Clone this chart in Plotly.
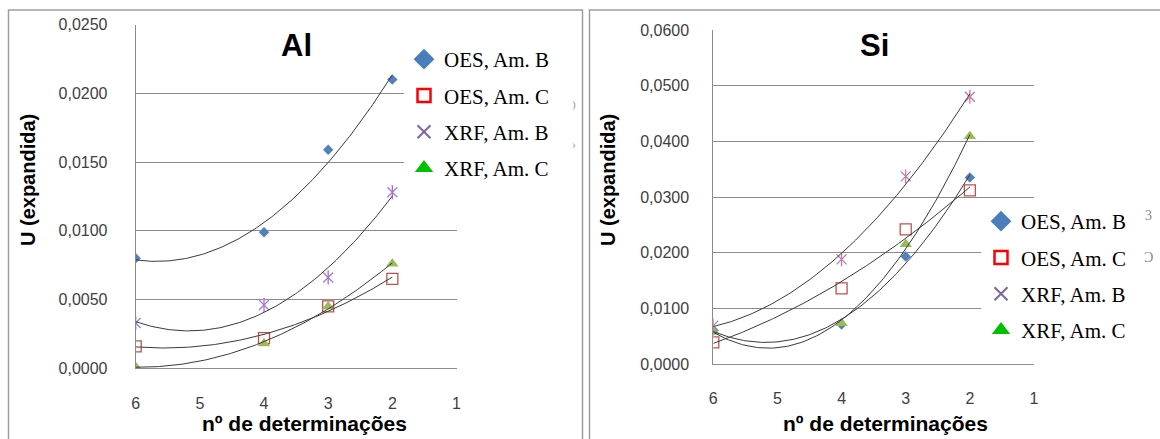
import numpy as np
import plotly.graph_objects as go

W, H = 1160, 439

# ---------------- data ----------------
n_det = [6, 4, 3, 2]
x_ticks = [6, 5, 4, 3, 2, 1]
series_names = ["OES, Am. B", "OES, Am. C", "XRF, Am. B", "XRF, Am. C"]

al_oes_b = [0.0080, 0.0099, 0.0159, 0.0210]
al_oes_c = [0.0016, 0.0022, 0.0045, 0.0065]
al_xrf_b = [0.0033, 0.0046, 0.0066, 0.0128]
al_xrf_c = [0.0001, 0.0018, 0.0045, 0.0076]

si_oes_b = [0.0060, 0.0071, 0.0193, 0.0335]
si_oes_c = [0.0039, 0.0136, 0.0242, 0.0312]
si_xrf_b = [0.0069, 0.0188, 0.0337, 0.0480]
si_xrf_c = [0.0058, 0.0073, 0.0215, 0.0409]

al_y_ticks = [0.0, 0.005, 0.010, 0.015, 0.020, 0.025]
si_y_ticks = [0.0, 0.01, 0.02, 0.03, 0.04, 0.05, 0.06]

# ---------------- helpers ----------------
def px(x):
    return x / W

def py(y):
    return 1 - y / H

data_styles = [
    dict(symbol="diamond", size=8, color="#4F81BD", line=dict(width=0)),
    dict(symbol="square-open", size=11, color="#C0504D", line=dict(width=1.3, color="#C0504D")),
    dict(symbol="x-thin-open", size=10, color="#9B87C0", line=dict(width=1.3, color="#9B87C0")),
    dict(symbol="triangle-up", size=11, color="#9BBB59", line=dict(width=0)),
]
legend_styles = [
    dict(symbol="diamond", size=16, color="#4A7EBB", line=dict(width=0)),
    dict(symbol="square-open", size=13, color="#FF0000", line=dict(width=2.5, color="#FF0000")),
    dict(symbol="x-thin-open", size=13, color="#8064A2", line=dict(width=2, color="#8064A2")),
    dict(symbol="triangle-up", size=16, color="#00C000", line=dict(width=0)),
]

fig = go.Figure()

def add_panel(tag, values, xa, ya, legend_name):
    xs = np.linspace(6, 2, 120)
    # markers
    for i, vals in enumerate(values):
        fig.add_trace(go.Scatter(x=n_det, y=vals, mode="markers", marker=data_styles[i],
                                 xaxis=xa, yaxis=ya, showlegend=False, hoverinfo="x+y"))
        if i == 2:  # vertical stroke of the star marker
            fig.add_trace(go.Scatter(x=n_det, y=vals, mode="markers",
                                     marker=dict(symbol="line-ns-open", size=10,
                                                 line=dict(width=1.3, color="#9B87C0")),
                                     xaxis=xa, yaxis=ya, showlegend=False, hoverinfo="skip"))
    # polynomial (order 2) trend lines
    for vals in values:
        coef = np.polyfit(n_det, vals, 2)
        fig.add_trace(go.Scatter(x=xs, y=np.polyval(coef, xs), mode="lines",
                                 line=dict(color="#3a3a3a", width=1),
                                 xaxis=xa, yaxis=ya, showlegend=False, hoverinfo="skip"))
    # legend entries
    for i, name in enumerate(series_names):
        fig.add_trace(go.Scatter(x=[None], y=[None], mode="markers", name=name,
                                 marker=legend_styles[i], xaxis=xa, yaxis=ya,
                                 legend=legend_name, legendgroup=tag + str(i)))

add_panel("al", [al_oes_b, al_oes_c, al_xrf_b, al_xrf_c], "x", "y", "legend")
add_panel("si", [si_oes_b, si_oes_c, si_xrf_b, si_xrf_c], "x2", "y2", "legend2")

tick_font = dict(family="Liberation Sans, Arial", size=16, color="#404040")
grid_col = "#8C8C8C"

def xaxis_cfg(domain, anchor):
    return dict(domain=domain, range=[6, 1], tickmode="array", tickvals=x_ticks,
                ticktext=[str(t) for t in x_ticks], showgrid=False, zeroline=False,
                showline=True, linecolor=grid_col, linewidth=1, ticks="",
                tickfont=tick_font, ticklabelstandoff=20, automargin=False,
                anchor=anchor, fixedrange=True)

def yaxis_cfg(domain, rng, ticks, anchor, standoff):
    return dict(domain=domain, range=rng, tickmode="array", tickvals=ticks,
                tickformat=".4f", showgrid=True, gridcolor=grid_col, gridwidth=1,
                zeroline=False, showline=True, linecolor=grid_col, linewidth=1, ticks="",
                tickfont=tick_font, ticklabelstandoff=standoff, automargin=False,
                anchor=anchor, fixedrange=True)

legend_font = dict(family="Liberation Serif, Times New Roman", size=21, color="black")

title_font = dict(family="Liberation Sans, Arial", size=31, color="black")
axis_title_font = dict(family="Liberation Sans, Arial", size=20, color="black")
xaxis_title_font = dict(family="Liberation Sans, Arial", size=21, color="black")

annotations = [
    dict(text="<b>Al</b>", x=px(296), y=py(45), font=title_font),
    dict(text="<b>Si</b>", x=px(874), y=py(45), font=title_font),
    dict(text="<b>U (expandida)</b>", x=px(28), y=py(180), textangle=-90, font=axis_title_font),
    dict(text="<b>U (expandida)</b>", x=px(608), y=py(180), textangle=-90, font=axis_title_font),
    dict(text="<b>nº de determinações</b>", x=px(304), y=py(423), font=xaxis_title_font),
    dict(text="<b>nº de determinações</b>", x=px(885), y=py(423), font=xaxis_title_font),
    # clipped fragments of an underlying legend visible at the edges
    dict(text=")", x=px(574), y=py(104), font=dict(family="Liberation Serif", size=11, color="#9A9A9A")),
    dict(text="›", x=px(574), y=py(144), font=dict(family="Liberation Serif", size=12, color="#9A9A9A")),
    dict(text="3", x=px(1148), y=py(216), font=dict(family="Liberation Serif", size=14, color="#8A8A8A")),
    dict(text="Ɔ", x=px(1148), y=py(257), font=dict(family="Liberation Serif", size=14, color="#8A8A8A")),
]
for a in annotations:
    a.update(xref="paper", yref="paper", showarrow=False, xanchor="center", yanchor="middle")

shapes = [
    dict(type="rect", xref="paper", yref="paper", x0=px(8.5), x1=px(582.5), y0=-0.2, y1=py(10),
         line=dict(color="#9E9E9E", width=1.5), layer="below"),
    dict(type="rect", xref="paper", yref="paper", x0=px(589.5), x1=1.2, y0=-0.2, y1=py(10),
         line=dict(color="#9E9E9E", width=1.5), layer="below"),
]

fig.update_layout(
    width=W, height=H,
    margin=dict(l=0, r=0, t=0, b=0),
    paper_bgcolor="white", plot_bgcolor="white",
    separators=",.",
    showlegend=True,
    xaxis=xaxis_cfg([px(135.7), px(456.5)], "y"),
    yaxis=yaxis_cfg([py(368.3), py(24.6)], [0, 0.025], al_y_ticks, "x", 24),
    xaxis2=xaxis_cfg([px(713.3), px(1034)], "y2"),
    yaxis2=yaxis_cfg([py(364), py(30)], [0, 0.06], si_y_ticks, "x2", 20),
    legend=dict(x=px(404), y=py(39), xanchor="left", yanchor="top", bgcolor="white",
                borderwidth=0, font=legend_font, tracegroupgap=6, itemsizing="trace"),
    legend2=dict(x=px(981), y=py(201), xanchor="left", yanchor="top", bgcolor="white",
                 borderwidth=0, font=legend_font, tracegroupgap=6, itemsizing="trace"),
    annotations=annotations,
    shapes=shapes,
)

fig.write_html("out.html")
